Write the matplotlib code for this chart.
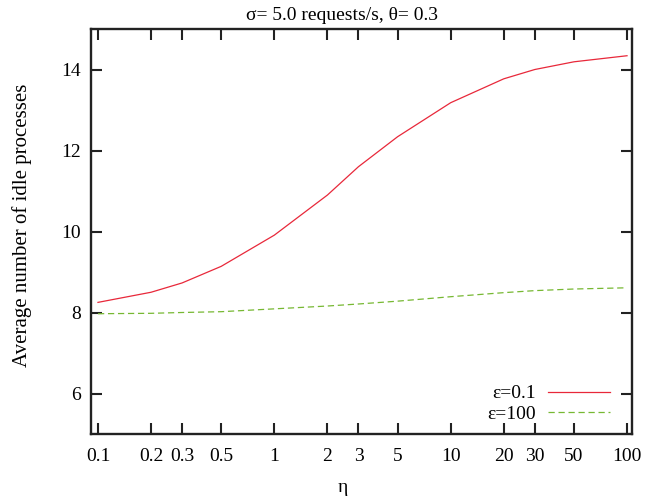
import matplotlib
matplotlib.use("Agg")
import matplotlib.pyplot as plt
from matplotlib.ticker import FixedLocator, FixedFormatter, NullLocator

plt.rcParams['font.family'] = ['Liberation Serif', 'DejaVu Serif']

# eta values and the two series
eta = [0.1, 0.2, 0.3, 0.5, 1, 2, 3, 5, 10, 20, 30, 50, 100]
idle_eps01 = [8.25, 8.50, 8.73, 9.14, 9.91, 10.90, 11.60, 12.34, 13.18, 13.77, 14.00, 14.19, 14.34]
idle_eps100 = [7.97, 7.98, 8.00, 8.02, 8.09, 8.16, 8.21, 8.28, 8.39, 8.49, 8.54, 8.58, 8.61]

xtick_vals = [0.1, 0.2, 0.3, 0.5, 1, 2, 3, 5, 10, 20, 30, 50, 100]
xtick_labels = ['0.1', '0.2', '0.3', '0.5', '1', '2', '3', '5', '10', '20', '30', '50', '100']
ytick_vals = [6, 8, 10, 12, 14]

fs = 14
W, H = 662, 498

fig = plt.figure(figsize=(6.62, 4.98), dpi=100)
ax = fig.add_axes([91 / W, 64 / H, 541 / W, 405 / H])

ax.plot(eta, idle_eps01, color='#e8283a', lw=0.9, label='ε=0.1')
ax.plot(eta, idle_eps100, color='#77b833', lw=0.9, dashes=(5, 3), label='ε=100')

ax.set_xscale('log')
ax.set_xlim(0.0913, 106.7)
ax.set_ylim(5, 15)

ax.xaxis.set_major_locator(FixedLocator(xtick_vals))
ax.xaxis.set_major_formatter(FixedFormatter(xtick_labels))
ax.xaxis.set_minor_locator(NullLocator())
ax.set_yticks(ytick_vals)
ax.set_yticklabels([str(v) for v in ytick_vals])

ax.tick_params(axis='both', which='major', direction='in', length=8, width=1.5,
               top=True, right=True, labelsize=fs, color='#222222')
ax.tick_params(axis='x', pad=10)
ax.tick_params(axis='y', pad=7)
for s in ax.spines.values():
    s.set_linewidth(1.7)
    s.set_color('#222222')

# gnuplot-style labels, centred on the canvas rather than the axes
fig.text(342 / W, 1 - 15 / H, 'σ= 5.0 requests/s, θ= 0.3', fontsize=fs,
         ha='center', va='center')
fig.text(343 / W, 1 - 487 / H, 'η', fontsize=fs, ha='center', va='center')
fig.text(22 / W, 1 - 225 / H, 'Average number of idle processes', fontsize=15,
         rotation=90, ha='center', va='center')

leg = ax.legend(loc='lower right', bbox_to_anchor=(0.973, 0.008), frameon=False,
                markerfirst=False, fontsize=fs, handlelength=3.15,
                handletextpad=0.65, labelspacing=0.15, borderaxespad=0)

fig.savefig('out.png', dpi=100)
